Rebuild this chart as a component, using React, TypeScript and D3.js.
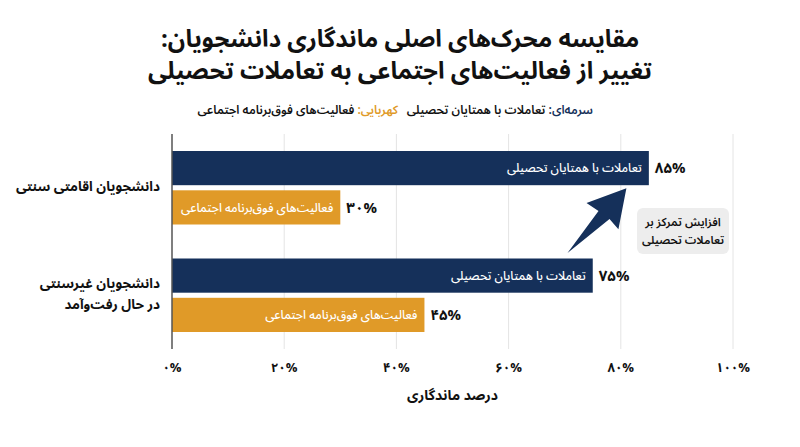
import React from "react";
import * as d3 from "d3";

// chart data
const categoryLines = [["دانشجویان اقامتی سنتی"], ["دانشجویان غیرسنتی", "در حال رفت‌وآمد"]];
const categories = ["traditional", "commuter"];
const seriesKeys = ["academic", "social"];
const seriesNames = ["تعاملات با همتایان تحصیلی", "فعالیت‌های فوق‌برنامه اجتماعی"];
const academicValues = [85, 75];
const socialValues = [30, 45];
const tickValues = [0, 20, 40, 60, 80, 100];
const tickLabels = ["۰%", "۲۰%", "۴۰%", "۶۰%", "۸۰%", "۱۰۰%"];
const titleLines = ["مقایسه محرک‌های اصلی ماندگاری دانشجویان:\u200F", "تغییر از فعالیت‌های اجتماعی به تعاملات تحصیلی"];
const legendPrefixes = ["سرمه‌ای:", "کهربایی:"];
const annotationLines = ["افزایش تمرکز بر", "تعاملات تحصیلی"];
const axisTitle = "درصد ماندگاری";

const NAVY = "#15305a";
const AMBER = "#e09a28";
const colors = [NAVY, AMBER];
const FONT = "'Noto Sans Arabic', Vazirmatn, 'DejaVu Sans', sans-serif";

const toFa = (n: number) => String(n).replace(/\d/g, (d) => "۰۱۲۳۴۵۶۷۸۹"[+d]);

const W = 800;
const H = 447;
const margin = { top: 134, left: 172, right: 67, bottom: 98 };

export default function App() {
  const x = d3.scaleLinear().domain([0, 100]).range([margin.left, W - margin.right]);
  const y = d3.scaleBand<string>().domain(categories).range([margin.top, H - margin.bottom]);
  const inner = d3
    .scaleBand<string>()
    .domain(seriesKeys)
    .range([17, y.bandwidth() - 17])
    .paddingInner(0.13);

  const values = [academicValues, socialValues];

  // arrow geometry relative to the academic bars
  const tip = [x(81), (y("traditional") ?? 0) + inner("academic")! + inner.bandwidth() + 3];
  const tail = [x(70.5), (y("commuter") ?? 0) + 11.5];
  const arrowPts = [
    tail,
    [tail[0] + 31, tail[1] - 42],
    [tail[0] + 19, tail[1] - 50],
    tip,
    [tip[0] - 8, tip[1] + 41],
    [tail[0] + 42, tail[1] - 34],
  ];

  return (
    <svg width={W} height={H} style={{ display: "block", position: "absolute", left: 0, top: 0 }} fontFamily={FONT}>
      <rect width={W} height={H} fill="#fff" />
      {/* title */}
      {titleLines.map((t, i) => (
        <text key={i} x={400} y={47 + i * 32} textAnchor="middle" fontSize={24} fontWeight={700} fill="#111">
          {t}
        </text>
      ))}
      {/* legend */}
      {[593, 398].map((rx, i) => (
        <text key={i} x={rx} y={114} textAnchor="end" fontSize={12} fontWeight={600} fill="#111">
          <tspan fill={i === 0 ? NAVY : AMBER}>{legendPrefixes[i]}</tspan>
          <tspan> {seriesNames[i]}</tspan>
        </text>
      ))}
      {/* grid */}
      {tickValues.slice(1).map((t) => (
        <line key={t} x1={x(t)} x2={x(t)} y1={margin.top} y2={H - margin.bottom} stroke="#e4e4e4" strokeWidth={1} />
      ))}
      {/* bars */}
      {categories.map((c, ci) => (
        <g key={c} transform={`translate(0,${y(c)})`}>
          {seriesKeys.map((s, si) => {
            const v = values[si][ci];
            const by = inner(s)!;
            const bh = inner.bandwidth();
            return (
              <g key={s}>
                <rect x={x(0)} y={by} width={x(v) - x(0)} height={bh} fill={colors[si]} />
                <text x={x(v) - 7} y={by + bh / 2} dy="0.35em" textAnchor="end" fontSize={12} fontWeight={500} fill="#fff">
                  {seriesNames[si]}
                </text>
                <text x={x(v) + 6} y={by + bh / 2} dy="0.35em" fontSize={15} fontWeight={700} fill="#111">
                  {toFa(v) + "%"}
                </text>
              </g>
            );
          })}
          {categoryLines[ci].map((line, li, arr) => (
            <text
              key={li}
              x={160}
              y={y.bandwidth() / 2 + (li - (arr.length - 1) / 2) * 21 - 1}
              dy="0.35em"
              textAnchor="end"
              fontSize={13.5}
              fontWeight={700}
              fill="#111"
            >
              {line}
            </text>
          ))}
        </g>
      ))}
      {/* y axis line */}
      <line x1={x(0)} x2={x(0)} y1={margin.top} y2={H - margin.bottom} stroke="#555" strokeWidth={1.5} />
      {/* x tick labels */}
      {tickValues.map((t, i) => (
        <text key={t} x={x(t)} y={372} textAnchor="middle" fontSize={13} fontWeight={700} fill="#111">
          {tickLabels[i]}
        </text>
      ))}
      <text x={(x(0) + x(100)) / 2} y={400} textAnchor="middle" fontSize={14} fontWeight={700} fill="#111">
        {axisTitle}
      </text>
      {/* annotation */}
      <path d={`M${arrowPts.map((p) => p.join(",")).join("L")}Z`} fill={NAVY} />
      <rect x={637} y={208} width={92} height={46} rx={6} fill="#ededed" />
      {annotationLines.map((l, i) => (
        <text key={i} x={683} y={226 + i * 18} textAnchor="middle" fontSize={11.5} fontWeight={600} fill="#111">
          {l}
        </text>
      ))}
    </svg>
  );
}
